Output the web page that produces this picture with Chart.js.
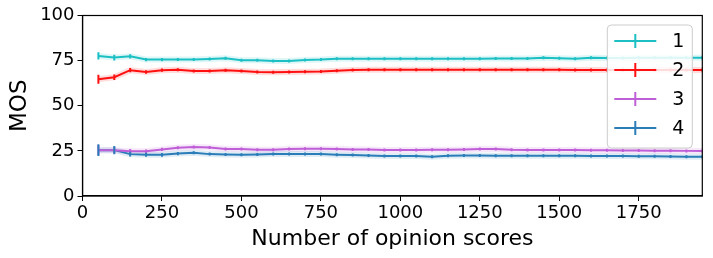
<!DOCTYPE html>
<html>
<head>
<meta charset="UTF-8">
<title>MOS vs number of opinion scores</title>
<script src="https://cdn.jsdelivr.net/npm/chart.js@4.4.0/dist/chart.umd.min.js"></script>
<style>
  html, body { margin: 0; padding: 0; background: #fff; }
  #wrap { width: 713px; height: 258px; }
</style>
</head>
<body>
<div id="wrap"><canvas id="chart" width="713" height="258"></canvas></div>
<script>
// number of opinion scores (x)
var scores = [50, 100, 150, 200, 250, 300, 350, 400, 450, 500, 550, 600, 650, 700, 750, 800, 850, 900, 950, 1000,
              1050, 1100, 1150, 1200, 1250, 1300, 1350, 1400, 1450, 1500, 1550, 1600, 1650, 1700, 1750, 1800, 1850, 1900, 1950];
var xTicks = [0, 250, 500, 750, 1000, 1250, 1500, 1750];
var yTicks = [0, 25, 50, 75, 100];
var seriesNames = ['1', '2', '3', '4'];

// MOS per series
var mos1 = [77.6, 76.7, 77.4, 75.6, 75.6, 75.6, 75.6, 75.9, 76.3, 75.2, 75.2, 74.8, 74.8, 75.4, 75.6, 76.1, 76.1, 76.1, 76.1, 76.1,
            76.1, 76.1, 76.1, 76.1, 76.1, 76.2, 76.2, 76.2, 76.6, 76.3, 76.1, 76.6, 76.4, 76.5, 76.6, 76.6, 76.6, 76.6, 76.6];
var mos2 = [64.7, 65.8, 69.7, 68.7, 69.7, 69.9, 69.2, 69.3, 69.7, 69.2, 68.7, 68.5, 68.7, 68.8, 69.0, 69.4, 69.8, 69.9, 69.9, 69.9,
            69.9, 69.9, 69.9, 69.9, 69.9, 70.0, 70.0, 69.9, 69.9, 69.9, 69.8, 69.8, 69.8, 69.8, 69.8, 69.8, 69.8, 69.8, 69.8];
var mos3 = [25.4, 25.4, 24.8, 24.8, 25.8, 26.7, 27.2, 26.9, 26.1, 26.0, 25.6, 25.6, 26.0, 26.2, 26.2, 26.0, 25.8, 25.8, 25.5, 25.5,
            25.5, 25.6, 25.6, 25.8, 26.0, 26.0, 25.6, 25.5, 25.5, 25.5, 25.5, 25.3, 25.3, 25.2, 25.2, 25.1, 25.1, 25.0, 25.0];
var mos4 = [25.4, 25.4, 23.2, 22.8, 22.8, 23.5, 23.9, 23.2, 23.0, 22.8, 23.0, 23.3, 23.2, 23.2, 23.2, 22.9, 22.7, 22.5, 22.2, 22.2,
            22.2, 21.8, 22.3, 22.5, 22.5, 22.3, 22.3, 22.3, 22.3, 22.3, 22.3, 22.2, 22.2, 22.1, 22.0, 22.0, 21.9, 21.8, 21.8];

// half-length of the error bars
var err1 = [2.0, 1.6, 1.2, 0.9, 0.9, 0.8, 0.8, 0.8, 0.7, 0.7, 0.7, 0.7, 0.6, 0.6, 0.6, 0.6, 0.5, 0.5, 0.5, 0.5,
            0.5, 0.5, 0.5, 0.5, 0.5, 0.5, 0.5, 0.4, 0.4, 0.4, 0.4, 0.4, 0.4, 0.4, 0.4, 0.4, 0.4, 0.4, 0.4];
var err2 = [2.5, 1.5, 1.2, 1.0, 0.9, 0.8, 0.8, 0.7, 0.7, 0.7, 0.6, 0.6, 0.6, 0.6, 0.6, 0.5, 0.5, 0.5, 0.5, 0.5,
            0.5, 0.5, 0.5, 0.5, 0.5, 0.5, 0.5, 0.4, 0.4, 0.4, 0.4, 0.4, 0.4, 0.4, 0.4, 0.4, 0.4, 0.4, 0.4];
var err3 = [2.8, 1.6, 1.2, 1.0, 0.9, 0.8, 0.8, 0.7, 0.7, 0.7, 0.6, 0.6, 0.6, 0.6, 0.6, 0.5, 0.5, 0.5, 0.5, 0.5,
            0.5, 0.5, 0.5, 0.5, 0.5, 0.5, 0.5, 0.4, 0.4, 0.4, 0.4, 0.4, 0.4, 0.4, 0.4, 0.4, 0.4, 0.4, 0.4];
var err4 = [3.3, 2.3, 1.3, 1.1, 1.0, 0.9, 0.8, 0.8, 0.7, 0.7, 0.7, 0.6, 0.6, 0.6, 0.6, 0.5, 0.5, 0.5, 0.5, 0.5,
            0.5, 0.5, 0.5, 0.5, 0.5, 0.5, 0.5, 0.4, 0.4, 0.4, 0.4, 0.4, 0.4, 0.4, 0.4, 0.4, 0.4, 0.4, 0.4];

var colors = ['#1cc0c4', '#ff1010', '#bf5fd8', '#2a7db8'];
var allMos = [mos1, mos2, mos3, mos4];
var allErr = [err1, err2, err3, err4];

var FONT = 'DejaVu Sans';

function toPoints(vals) {
  return scores.map(function (x, i) { return { x: x, y: vals[i] }; });
}

var datasets = allMos.map(function (vals, k) {
  return {
    label: seriesNames[k],
    data: toPoints(vals),
    errors: allErr[k],
    borderColor: colors[k],
    backgroundColor: colors[k],
    borderWidth: 2,
    pointRadius: 0,
    tension: 0,
    fill: false
  };
});

// soft halo under each line + vertical error bars
var errorBars = {
  id: 'errorBars',
  beforeDatasetsDraw: function (chart) {
    var ctx = chart.ctx, area = chart.chartArea;
    ctx.save();
    ctx.beginPath();
    ctx.rect(area.left, area.top, area.right - area.left, area.bottom - area.top);
    ctx.clip();
    chart.data.datasets.forEach(function (ds, k) {
      var meta = chart.getDatasetMeta(k);
      ctx.globalAlpha = 0.14;
      ctx.strokeStyle = ds.borderColor;
      ctx.lineWidth = 6;
      ctx.lineJoin = 'round';
      ctx.beginPath();
      meta.data.forEach(function (pt, i) {
        if (i === 0) ctx.moveTo(pt.x, pt.y); else ctx.lineTo(pt.x, pt.y);
      });
      ctx.stroke();
    });
    ctx.restore();
  },
  afterDatasetsDraw: function (chart) {
    var ctx = chart.ctx, ys = chart.scales.y, area = chart.chartArea;
    ctx.save();
    ctx.beginPath();
    ctx.rect(area.left, area.top, area.right - area.left, area.bottom - area.top);
    ctx.clip();
    chart.data.datasets.forEach(function (ds, k) {
      var meta = chart.getDatasetMeta(k);
      ctx.strokeStyle = ds.borderColor;
      ctx.lineWidth = 2;
      meta.data.forEach(function (pt, i) {
        var v = ds.data[i].y, e = ds.errors[i];
        var y1 = ys.getPixelForValue(v - e), y2 = ys.getPixelForValue(v + e);
        if (Math.abs(y1 - y2) < 3) { y1 = pt.y + 1.5; y2 = pt.y - 1.5; }
        ctx.beginPath();
        ctx.moveTo(pt.x, y1);
        ctx.lineTo(pt.x, y2);
        ctx.stroke();
      });
    });
    ctx.restore();
  },
  afterDraw: function (chart) {
    var ctx = chart.ctx, a = chart.chartArea;
    // frame
    ctx.save();
    ctx.strokeStyle = '#000';
    ctx.lineWidth = 1.2;
    ctx.strokeRect(a.left, a.top, a.right - a.left, a.bottom - a.top);

    // legend box, top right inside plot
    var bx = a.right - 95, by = a.top + 9.5, bw = 85, bh = 123, r = 4;
    ctx.globalAlpha = 0.85;
    ctx.fillStyle = '#fff';
    ctx.beginPath();
    ctx.roundRect(bx, by, bw, bh, r);
    ctx.fill();
    ctx.globalAlpha = 1;
    ctx.strokeStyle = '#cccccc';
    ctx.lineWidth = 1;
    ctx.stroke();

    ctx.font = '19px ' + FONT;
    ctx.textBaseline = 'middle';
    ctx.textAlign = 'left';
    chart.data.datasets.forEach(function (ds, k) {
      var cy = by + 16 + k * 29;
      ctx.strokeStyle = ds.borderColor;
      ctx.lineWidth = 2;
      ctx.beginPath();
      ctx.moveTo(bx + 7, cy);
      ctx.lineTo(bx + 49, cy);
      ctx.moveTo(bx + 28, cy - 7);
      ctx.lineTo(bx + 28, cy + 7);
      ctx.stroke();
      ctx.fillStyle = '#000';
      ctx.fillText(ds.label, bx + 65, cy + 1);
    });
    ctx.restore();
  }
};

new Chart(document.getElementById('chart'), {
  type: 'line',
  data: { datasets: datasets },
  plugins: [errorBars],
  options: {
    responsive: false,
    animation: false,
    layout: { padding: { top: 15.5, right: 10.7, left: 0, bottom: 0 } },
    plugins: { legend: { display: false }, tooltip: { enabled: false } },
    scales: {
      x: {
        type: 'linear',
        min: 0,
        max: 1950,
        afterBuildTicks: function (axis) {
          axis.ticks = xTicks.map(function (v) { return { value: v }; });
        },
        afterFit: function (axis) { axis.height = 62; },
        grid: { drawOnChartArea: false, tickLength: 5, tickColor: '#000', tickWidth: 1 },
        border: { display: true, color: '#000', width: 1.2 },
        ticks: {
          color: '#000',
          font: { family: FONT, size: 18 },
          padding: 2,
          maxRotation: 0,
          autoSkip: false,
          callback: function (v) { return String(v); }
        },
        title: {
          display: true,
          text: 'Number of opinion scores',
          color: '#000',
          font: { family: FONT, size: 22 },
          padding: { top: 0, bottom: 6 }
        }
      },
      y: {
        min: 0,
        max: 100,
        afterBuildTicks: function (axis) {
          axis.ticks = yTicks.map(function (v) { return { value: v }; });
        },
        afterFit: function (axis) { axis.width = 82.5; },
        grid: { drawOnChartArea: false, tickLength: 5, tickColor: '#000', tickWidth: 1 },
        border: { display: true, color: '#000', width: 1.2 },
        ticks: {
          color: '#000',
          font: { family: FONT, size: 18 },
          padding: 3,
          callback: function (v) { return String(v); }
        },
        title: {
          display: true,
          text: 'MOS',
          color: '#000',
          font: { family: FONT, size: 23 },
          padding: { top: 6, bottom: 4 }
        }
      }
    }
  }
});
</script>
</body>
</html>
